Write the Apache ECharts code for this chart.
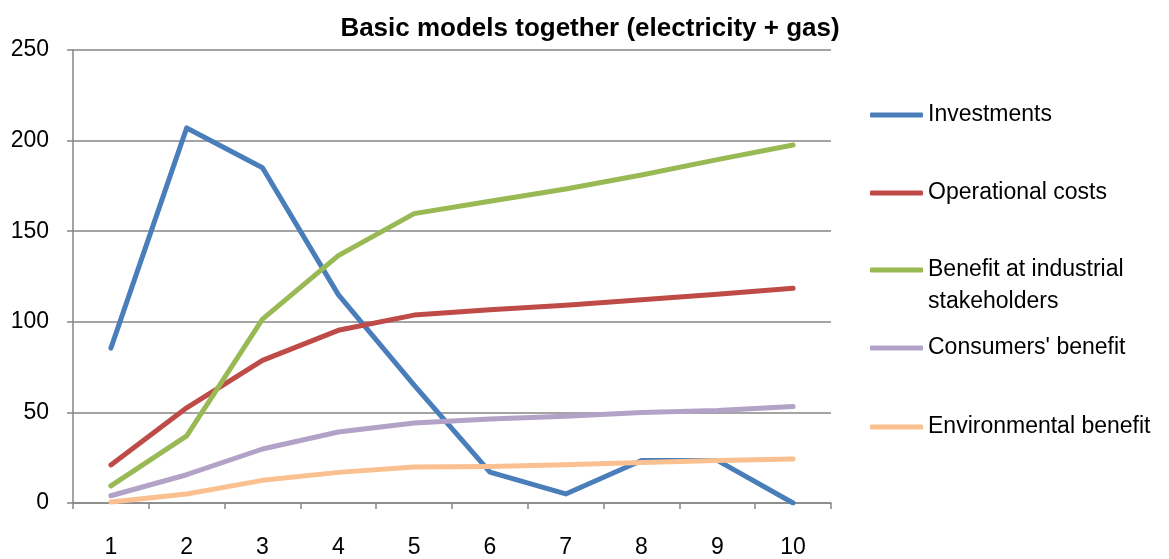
<!DOCTYPE html>
<html>
<head>
<meta charset="utf-8">
<title>Basic models together (electricity + gas)</title>
<script src="https://cdn.jsdelivr.net/npm/echarts@6/dist/echarts.min.js"></script>
<style>
  html, body { margin: 0; padding: 0; background: #ffffff; }
  #chart { width: 1169px; height: 559px; }
</style>
</head>
<body>
<div id="chart"></div>
<script>
// Years 1..10 on the horizontal axis
const categories = ['1', '2', '3', '4', '5', '6', '7', '8', '9', '10'];

const investments = [85.5, 207, 185, 115, 65, 17, 5, 23.5, 23.5, 0];
const operationalCosts = [21, 52.5, 78.7, 95.3, 103.7, 106.7, 109.2, 112.2, 115.2, 118.5];
const industrialBenefit = [9.5, 37, 101.5, 136.5, 159.7, 166.5, 173.3, 181, 189.5, 197.6];
const consumersBenefit = [4, 15.6, 29.8, 39.2, 44.2, 46.4, 47.9, 50, 51, 53.2];
const environmentalBenefit = [0.5, 5, 12.5, 16.9, 19.9, 20.2, 21.1, 22.4, 23.5, 24.3];

const seriesNames = [
  'Investments',
  'Operational costs',
  'Benefit at industrial stakeholders',
  "Consumers' benefit",
  'Environmental benefit'
];
const seriesColors = ['#4A7EBB', '#BE4B48', '#98B954', '#B3A2C7', '#FAC090'];
const seriesValues = [investments, operationalCosts, industrialBenefit, consumersBenefit, environmentalBenefit];

const FONT = "'Liberation Sans', Arial, sans-serif";
const GRID_COLOR = '#868686';
const LABEL_SIZE = 23;

// vertical centre of each legend entry's icon
const legendCenters = [115, 193, 270, 348, 427];
const LEGEND_LINE_H = 32;

const legends = seriesNames.map(function (name, i) {
  const multi = i === 2;
  return {
    data: [name],
    orient: 'vertical',
    left: 870,
    top: legendCenters[i] - (multi ? LEGEND_LINE_H * 1.5 : LEGEND_LINE_H / 2),
    padding: 0,
    icon: 'roundRect',
    itemWidth: 53,
    itemHeight: 5,
    selectedMode: false,
    formatter: function (n) {
      // two-line label, icon aligned with its first line
      return multi ? '\u00a0\nBenefit at industrial\nstakeholders' : n;
    },
    textStyle: {
      fontFamily: FONT,
      fontSize: LABEL_SIZE,
      color: '#000',
      lineHeight: LEGEND_LINE_H,
      padding: [0, 0, 0, 0]
    }
  };
});

const chart = echarts.init(document.getElementById('chart'), null, { renderer: 'canvas' });

chart.setOption({
  backgroundColor: '#ffffff',
  animation: false,
  title: {
    text: 'Basic models together (electricity + gas)',
    left: 585,
    top: 11,
    textAlign: 'center',
    textStyle: {
      fontFamily: FONT,
      fontSize: 26,
      fontWeight: 'bold',
      color: '#000'
    }
  },
  legend: legends,
  grid: {
    left: 73,
    right: 338,
    top: 50,
    bottom: 56,
    containLabel: false
  },
  xAxis: {
    type: 'category',
    data: categories,
    boundaryGap: true,
    axisLine: { show: true, lineStyle: { color: GRID_COLOR, width: 1.5 } },
    axisTick: { show: true, inside: false, length: 6, interval: 0, lineStyle: { color: GRID_COLOR, width: 1.5 } },
    axisLabel: {
      margin: 33,
      fontFamily: FONT,
      fontSize: LABEL_SIZE,
      color: '#000'
    },
    splitLine: { show: false }
  },
  yAxis: {
    type: 'value',
    min: 0,
    max: 250,
    interval: 50,
    axisLine: { show: true, lineStyle: { color: GRID_COLOR, width: 1.5 } },
    axisTick: { show: true, inside: false, length: 6, lineStyle: { color: GRID_COLOR, width: 1.5 } },
    axisLabel: {
      margin: 24,
      fontFamily: FONT,
      fontSize: LABEL_SIZE,
      color: '#000'
    },
    splitLine: { show: true, lineStyle: { color: GRID_COLOR, width: 1.5 } }
  },
  series: seriesNames.map(function (name, i) {
    return {
      name: name,
      type: 'line',
      data: seriesValues[i],
      symbol: 'none',
      smooth: false,
      color: seriesColors[i],
      lineStyle: { width: 5, color: seriesColors[i], cap: 'round', join: 'round' }
    };
  })
});
</script>
</body>
</html>
